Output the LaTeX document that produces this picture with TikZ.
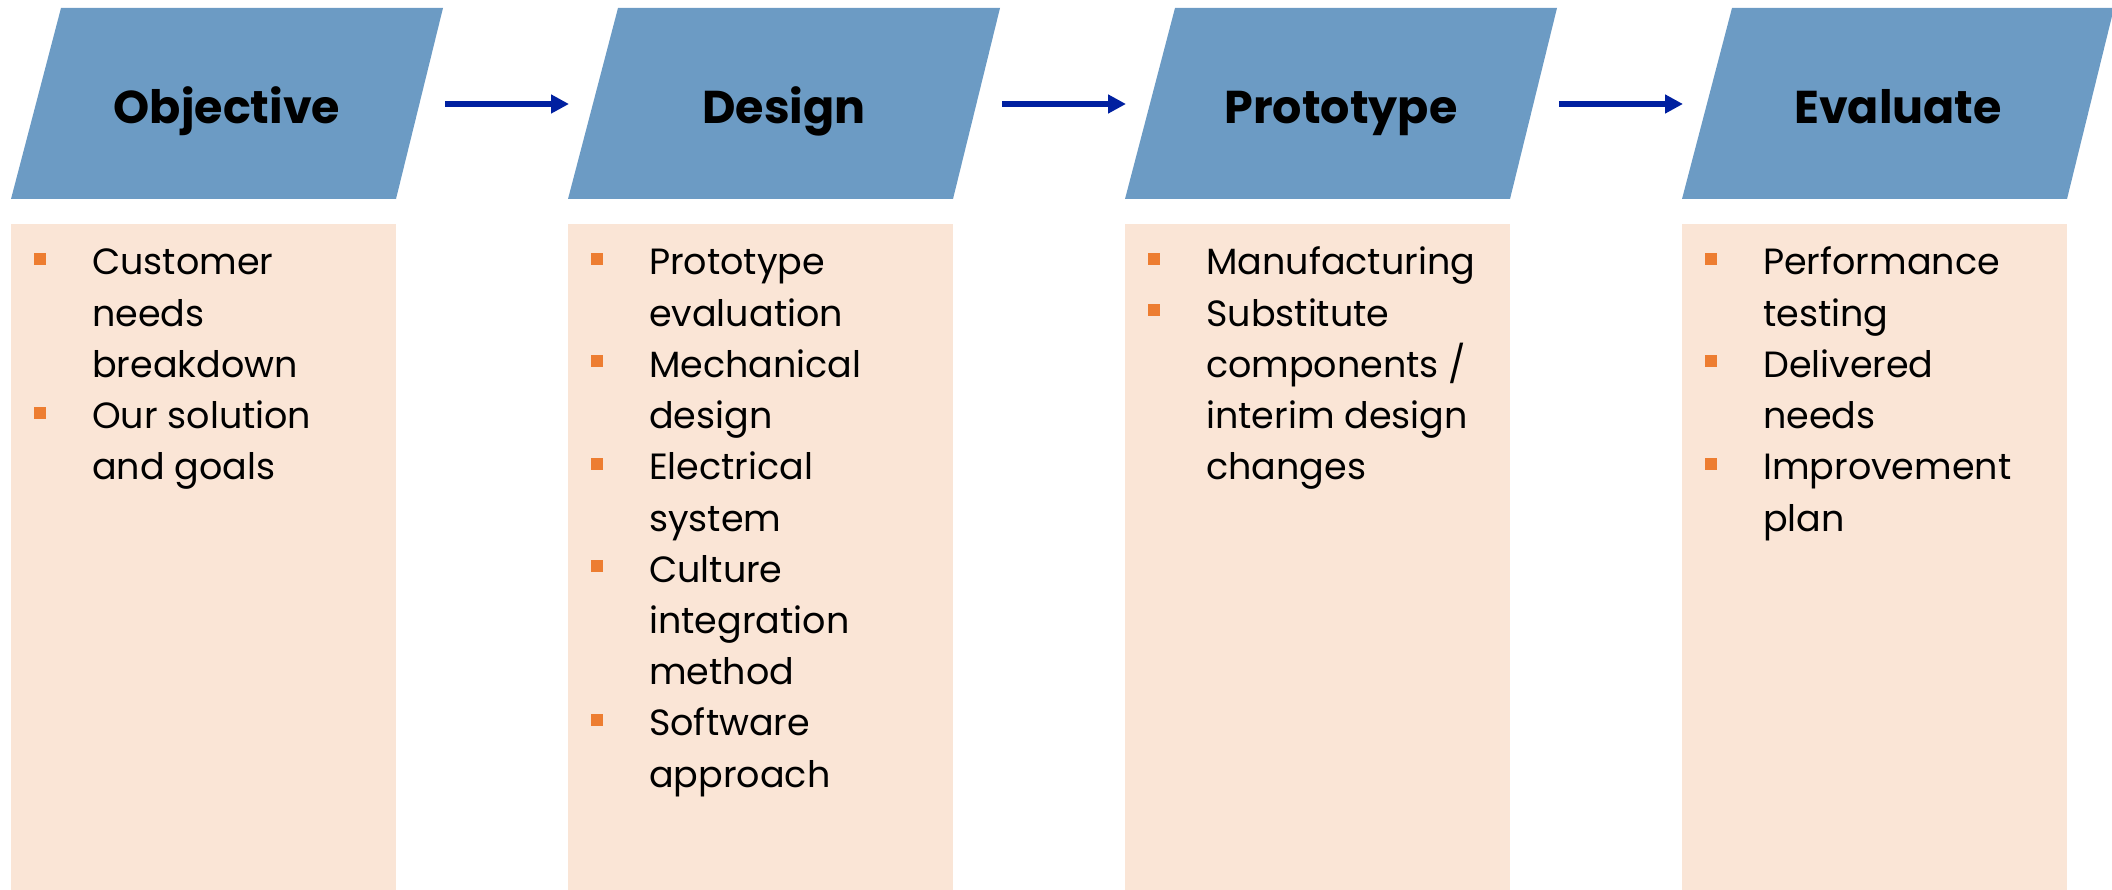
\documentclass[tikz,border=0pt]{standalone}
\usepackage{fontspec}
\setmainfont{Poppins}
\usetikzlibrary{arrows.meta}

\definecolor{stageblue}{RGB}{108,155,196}
\definecolor{notepeach}{RGB}{250,229,214}
\definecolor{flowblue}{RGB}{0,32,160}
\definecolor{bulletorange}{RGB}{237,125,49}

\newcommand\headfont{\fontsize{46}{50}\selectfont\bfseries}
\newcommand\bodyfont{\fontsize{36.5}{44}\selectfont}

\tikzset{
  stagebox/.style={fill=stageblue},
  notebox/.style={fill=notepeach},
  heading/.style={inner sep=0pt, anchor=base, font=\headfont},
  itemline/.style={inner sep=0pt, anchor=base west, font=\bodyfont},
  bulletsq/.style={fill=bulletorange, minimum size=12pt, inner sep=0pt},
  flow/.style={draw=flowblue, line width=5.5pt, -{Triangle[length=18pt,width=18pt]}}
}

% draw the lines of one column; #1 = column index, #2 = list of text/bullet-flag
\newcommand\columnitems[2]{%
  \pgfmathsetmacro\ox{557*#1}
  \foreach \t/\b [count=\i from 0] in {#2} {
    \pgfmathsetmacro\by{275+51.2*\i}
    \node[itemline] (item#1-\i) at ({92+\ox},\by) {\t};
    \ifnum\b=1
      \node[bulletsq] (dot#1-\i) at ({40+\ox},{\by-16}) {};
    \fi
  }%
}

\begin{document}
\begin{tikzpicture}[x=1pt,y=-1pt]
\useasboundingbox (0,0) rectangle (2112,890);

% stage headers and note panels
\foreach \c/\name in {0/Objective,1/Design,2/Prototype,3/Evaluate} {
  \pgfmathsetmacro\ox{557*\c}
  \fill[stagebox] ({61+\ox},8) -- ({443+\ox},8) -- ({396+\ox},199) -- ({11+\ox},199) -- cycle;
  \fill[notebox] ({11+\ox},224) rectangle ({396+\ox},890);
  \node[heading] (head\c) at ({227+\ox},124) {\name};
}

% flow arrows between the stages
\foreach \c in {0,1,2} {
  \pgfmathsetmacro\ox{557*\c}
  \coordinate (from\c) at ({445+\ox},104);
  \coordinate (to\c) at ({569+\ox},104);
  \draw[flow] (from\c) -- (to\c);
}

\columnitems{0}{Customer/1, needs/0, breakdown/0, Our solution/1, and goals/0}
\columnitems{1}{Prototype/1, evaluation/0, Mechanical/1, design/0, Electrical/1, system/0, Culture/1, integration/0, method/0, Software/1, approach/0}
\columnitems{2}{Manufacturing/1, Substitute/1, {components /}/0, interim design/0, changes/0}
\columnitems{3}{Performance/1, testing/0, Delivered/1, needs/0, Improvement/1, plan/0}

\end{tikzpicture}
\end{document}
